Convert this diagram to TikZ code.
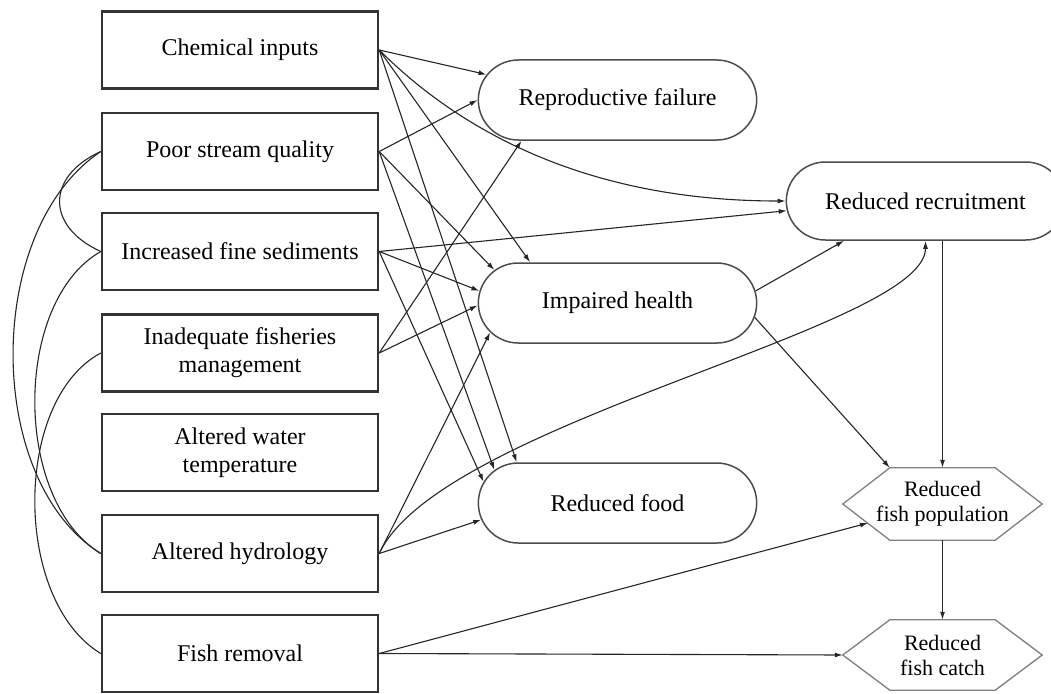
\documentclass[tikz,border=0pt]{standalone}
\usepackage{fontspec}
\setmainfont{Liberation Serif}
\usetikzlibrary{arrows.meta,shapes.misc,calc}
\begin{document}
\begin{tikzpicture}[x=1pt,y=-1pt,
  font=\fontsize{24}{28}\selectfont,
  srcbox/.style={draw=black!80, line width=2.4pt, minimum width=276pt, minimum height=77pt, align=center, inner sep=2pt},
  pill/.style={rounded rectangle, draw=black!70, line width=1.5pt, minimum width=285pt, minimum height=80pt},
  hexnode/.style={minimum width=199pt, minimum height=72pt, align=center, inner sep=0pt, font=\fontsize{22}{25}\selectfont},
  hexline/.style={draw=black!50, line width=1.3pt},
  conn/.style={draw=black!85, line width=1.1pt, -{Latex[length=8pt,width=5pt]}},
  plain/.style={draw=black!85, line width=1.1pt},
]
\useasboundingbox (0,0) rectangle (1051,693);

% source boxes
\node[srcbox] (chem) at (240,50) {Chemical inputs};
\node[srcbox] (poor) at (240,151.5) {Poor stream quality};
\node[srcbox] (fine) at (240,251.5) {Increased fine sediments};
\node[srcbox] (mgmt) at (240,353) {Inadequate fisheries\\management};
\node[srcbox] (temp) at (240,452.5) {Altered water\\temperature};
\node[srcbox] (hyd) at (240,553.5) {Altered hydrology};
\node[srcbox] (rem) at (240,653.5) {Fish removal};

% effects
\node[pill] (repro) at (617.5,100) {Reproductive failure};
\node[pill] (imp) at (617.5,303) {Impaired health};
\node[pill] (food) at (617.5,503) {Reduced food};
\node[pill, minimum height=78pt] (recr) at (925.5,201) {Reduced recruitment};

% outcomes
\node[hexnode] (pop) at (942.5,504) {Reduced\\fish population};
\node[hexnode, minimum height=70pt] (catch) at (942.5,655) {Reduced\\fish catch};
\foreach \n in {pop,catch}
  \draw[hexline] ($(\n.north west)+(47,0)$) -- ($(\n.north east)+(-47,0)$) -- (\n.east)
    -- ($(\n.south east)+(-47,0)$) -- ($(\n.south west)+(47,0)$) -- (\n.west) -- cycle;

% connectors
\draw[conn] (chem.east) -- (repro.169);
\draw[conn] (chem.east) .. controls +(80,80) and +(-200,0) .. (recr.west);
\draw[conn] (chem.east) -- (imp.155);
\draw[conn] (chem.east) -- (food.158);
\draw[conn] (poor.east) -- (repro.west);
\draw[conn] (poor.east) -- (imp.165);
\draw[conn] (poor.east) -- (food.165);
\draw[conn] (fine.east) -- (recr.184);
\draw[conn] (fine.east) -- (imp.175);
\draw[conn] (fine.east) -- (food.171);
\draw[conn] (mgmt.east) -- (repro.203);
\draw[conn] (mgmt.east) -- (imp.181);
\draw[conn] (hyd.east) -- (imp.193);
\draw[conn] (hyd.east) -- (food.187);
\draw[conn] (hyd.east) .. controls +(62,-132) and +(0,88) .. (recr.south);
\draw[conn] (imp.5) -- (recr.206);
\draw[conn] (imp.354) -- ($(pop.north west)+(47,0)$);
\draw[conn] (pop.north |- recr.south) -- (pop.north);
\draw[conn] (pop.south) -- (catch.north);
\draw[conn] (rem.east) -- ($(pop.center)+(-74.5,19)$);
\draw[conn] (rem.east) -- (catch.west);

% left-hand links
\draw[plain] (poor.west) .. controls +(-55,25) and +(-55,-25) .. (fine.west);
\draw[plain] (poor.west) .. controls +(-117,78) and +(-117,-73) .. (hyd.west);
\draw[plain] (fine.west) .. controls +(-88,50) and +(-88,-53) .. (hyd.west);
\draw[plain] (mgmt.west) .. controls +(-88,47) and +(-88,-53) .. (rem.west);
\end{tikzpicture}
\end{document}
